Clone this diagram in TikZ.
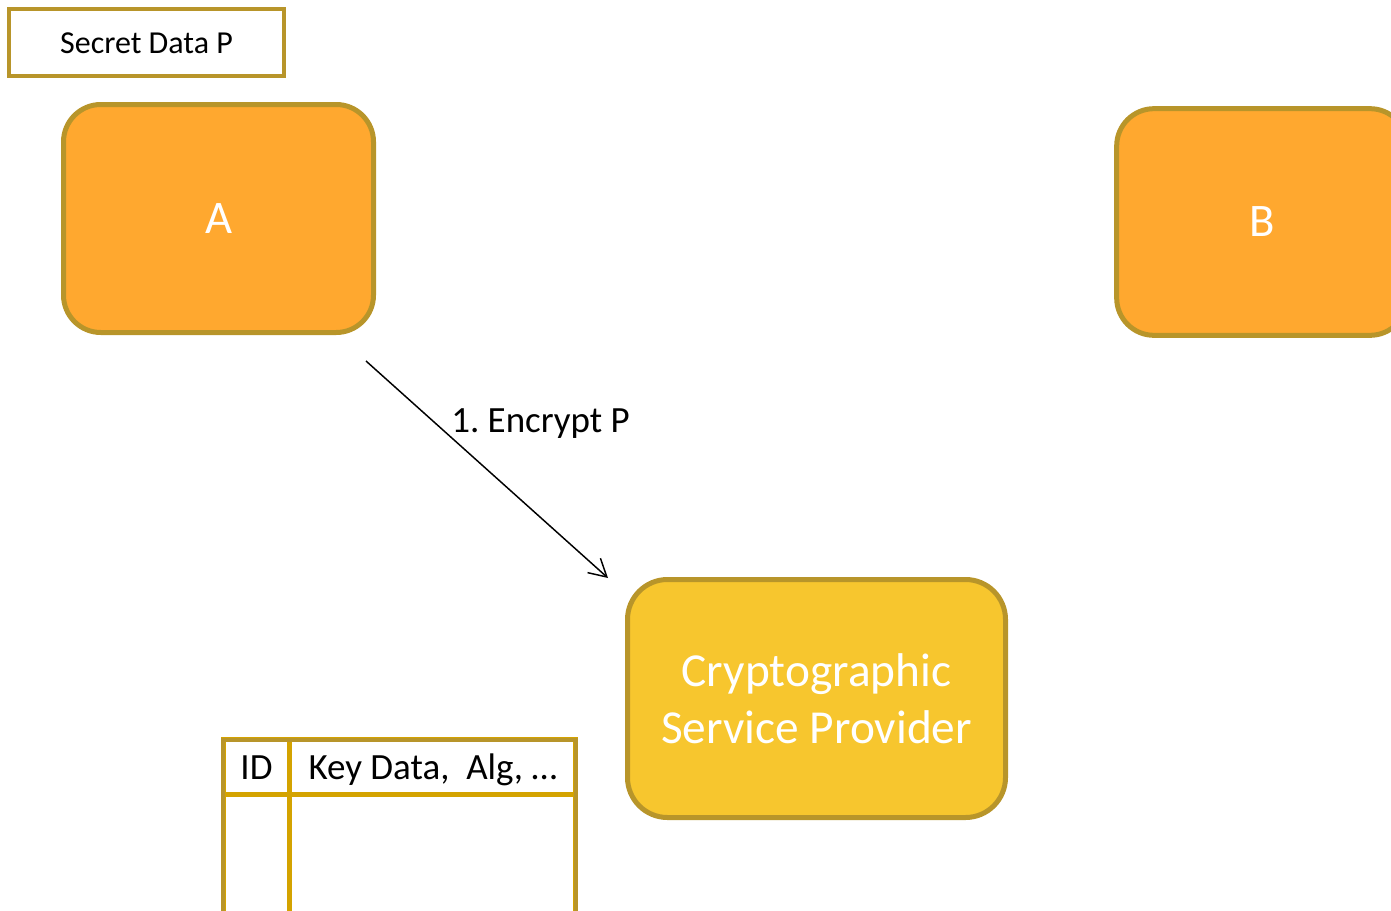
\documentclass[tikz,border=0pt]{standalone}
\usepackage{fontspec}
\setmainfont{Carlito}
\usetikzlibrary{arrows.meta,calc}
\definecolor{boxedge}{HTML}{B8952A}
\definecolor{orangefill}{HTML}{FFA82F}
\definecolor{cspfill}{HTML}{F7C62E}
\definecolor{gridline}{HTML}{D4A300}
\frenchspacing
\tikzset{
  party/.style={draw=boxedge, line width=3.75pt, fill=orangefill, rounded corners=28pt,
    text=white, font=\fontsize{35}{42}\selectfont, inner sep=0pt, outer sep=0pt},
  provider/.style={draw=boxedge, line width=3.75pt, fill=cspfill, rounded corners=30pt,
    text=white, align=center, font=\fontsize{35.5}{43}\selectfont, inner sep=0pt, outer sep=0pt,
    minimum width=283.5pt, minimum height=178.5pt},
  databox/.style={draw=boxedge, line width=3pt, font=\fontsize{24}{28}\selectfont,
    minimum width=206pt, minimum height=50pt, inner sep=0pt, text height=16.5pt, text depth=0pt},
  cell/.style={draw=gridline, line width=3.75pt, inner sep=0pt, outer sep=0pt,
    font=\fontsize{27.75}{33}\selectfont, text height=18pt, text depth=0pt},
  flow/.style={line width=1.1pt, -{Straight Barb[length=13pt,width=14.5pt]}},
  flowlabel/.style={font=\fontsize{27.75}{33}\selectfont, inner sep=0pt}
}
\begin{document}
\begin{tikzpicture}[x=0.75pt,y=-0.75pt]
  \useasboundingbox (0,0) rectangle (1391,910);

  % input data held by A
  \node[databox] (secret) at (146.5,42.5) {Secret Data P};

  % the two parties
  \node[party, minimum width=232.5pt, minimum height=171pt] (A) at (218.5,218.5) {A};
  \node[party, minimum width=218pt, minimum height=170pt] (B) at (1262,222) {B};

  % the service that holds the keys
  \node[provider] (CSP) at (816.5,698.5) {Cryptographic\\Service Provider};

  % key table: header row and body
  \node[cell, minimum width=50pt, minimum height=41pt] (idhead) at (256.5,767.25) {ID};
  \node[cell, minimum width=214.5pt, minimum height=41pt, anchor=west] (keyhead) at (idhead.east) {Key Data,\ \ Alg, …};
  \node[cell, minimum width=50pt, minimum height=112.5pt, anchor=north] (idbody) at (idhead.south) {};
  \node[cell, minimum width=214.5pt, minimum height=112.5pt, anchor=north] (keybody) at (keyhead.south) {};
  \draw[boxedge, line width=3pt] (idhead.north west) rectangle (keybody.south east);

  % step 1: A asks the provider to encrypt P
  \coordinate (encStart) at ($(A.south east)+(-7.5,28.5)$);
  \coordinate (encEnd) at ($(CSP.north west)+(-19.5,-1.5)$);
  \draw[flow] (encStart) -- (encEnd);
  \node[flowlabel, anchor=base west] (enclabel) at (451,432) {1. Encrypt P};
\end{tikzpicture}
\end{document}
